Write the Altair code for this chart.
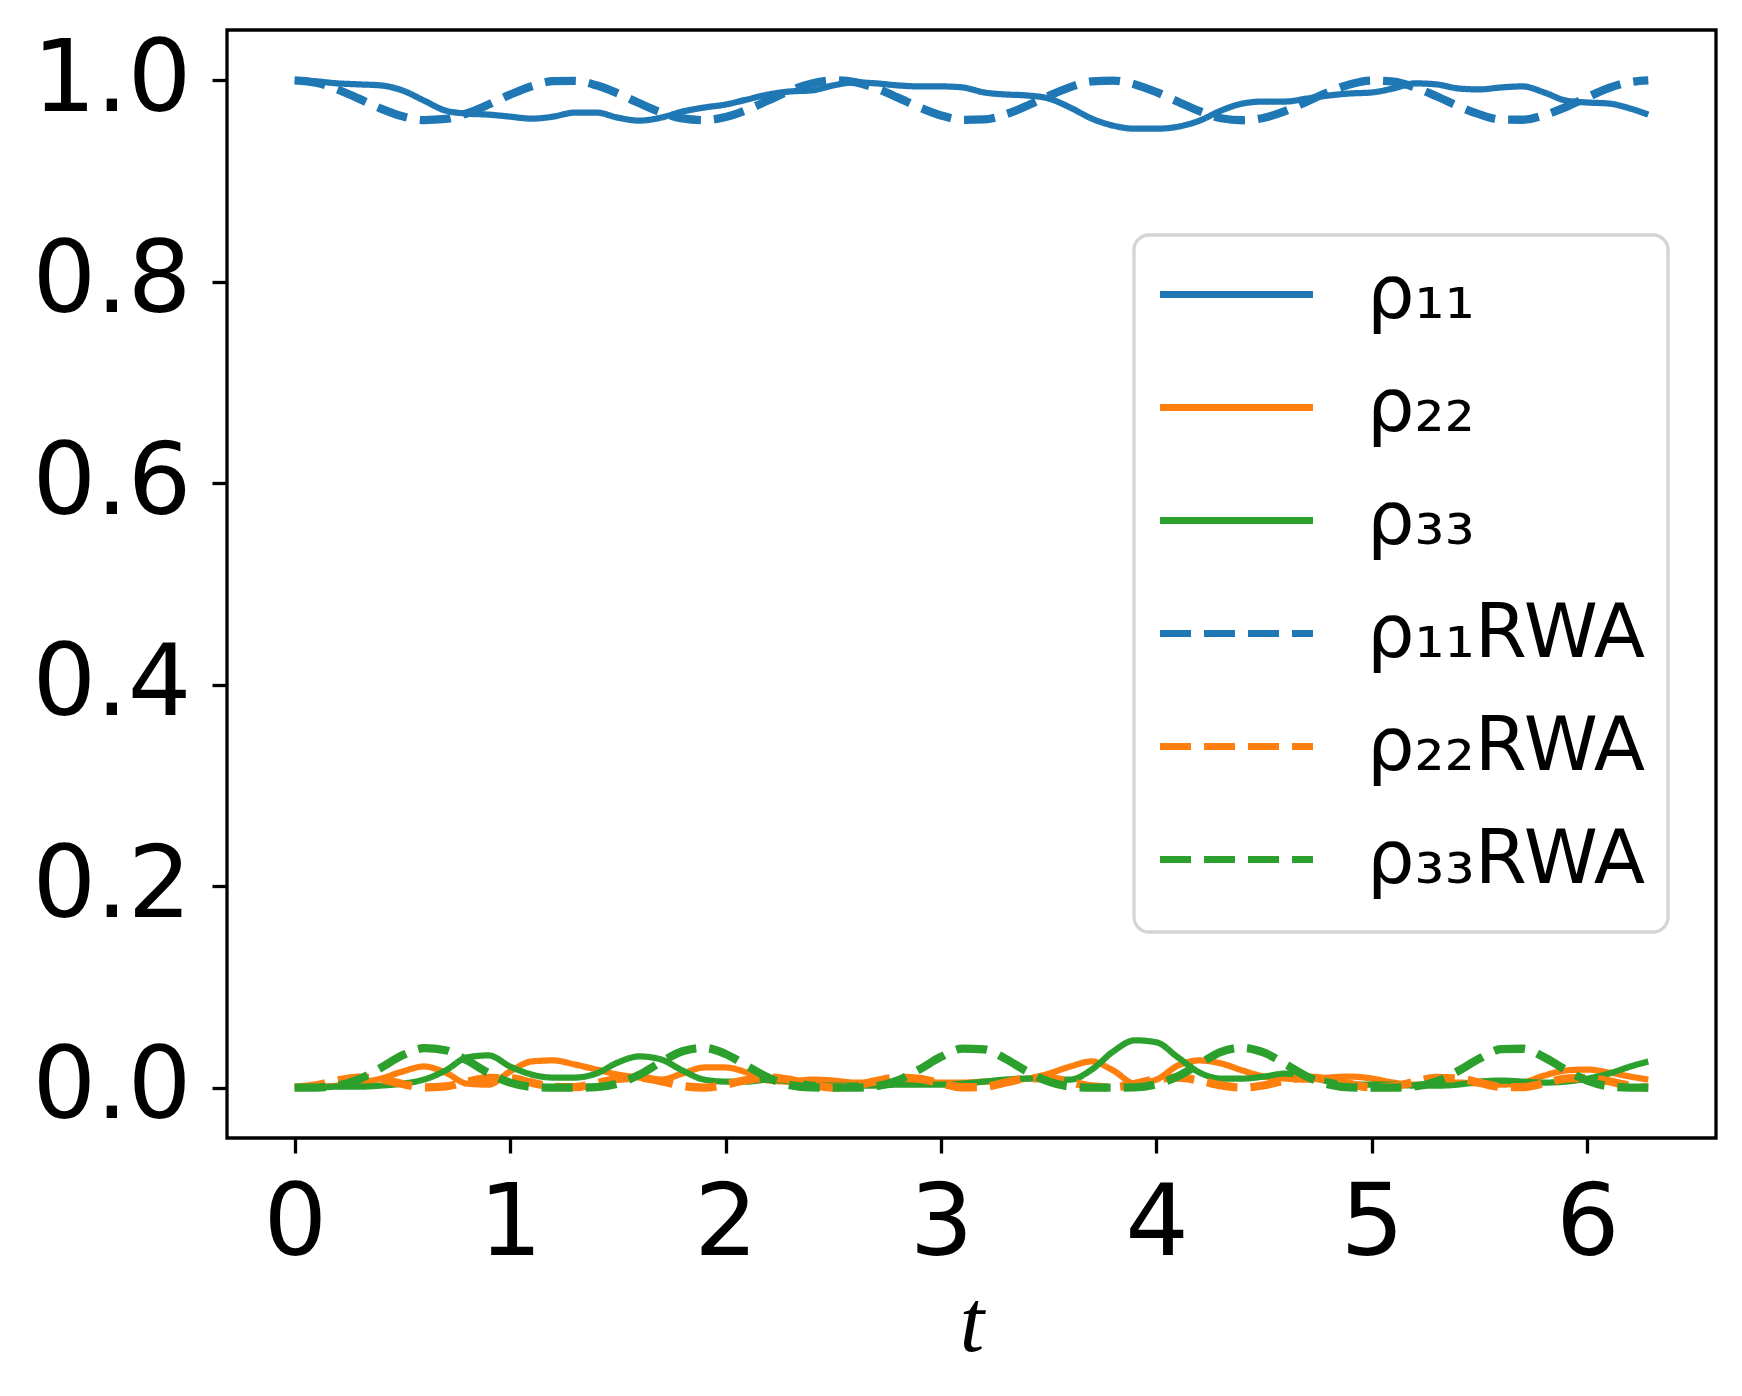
import altair as alt
import pandas as pd

T = [0.0, 0.1, 0.2, 0.3, 0.4, 0.5, 0.6, 0.7, 0.8, 0.9,
     1.0, 1.1, 1.2, 1.3, 1.4, 1.5, 1.6, 1.7, 1.8, 1.9,
     2.0, 2.1, 2.2, 2.3, 2.4, 2.5, 2.6, 2.7, 2.8, 2.9,
     3.0, 3.1, 3.2, 3.3, 3.4, 3.5, 3.6, 3.7, 3.8, 3.9,
     4.0, 4.1, 4.2, 4.3, 4.4, 4.5, 4.6, 4.7, 4.8, 4.9,
     5.0, 5.1, 5.2, 5.3, 5.4, 5.5, 5.6, 5.7, 5.8, 5.9,
     6.0, 6.1, 6.2, 6.283]

RHO11 = [1.000, 0.999, 0.997, 0.996, 0.995, 0.990, 0.980, 0.970, 0.967, 0.966,
         0.964, 0.962, 0.964, 0.968, 0.968, 0.963, 0.960, 0.963, 0.969, 0.973,
         0.976, 0.981, 0.986, 0.989, 0.990, 0.995, 0.998, 0.997, 0.995, 0.994,
         0.994, 0.993, 0.988, 0.986, 0.985, 0.982, 0.973, 0.962, 0.955, 0.952,
         0.952, 0.954, 0.960, 0.970, 0.977, 0.979, 0.979, 0.982, 0.985, 0.987,
         0.988, 0.992, 0.997, 0.996, 0.992, 0.991, 0.993, 0.994, 0.988, 0.980,
         0.978, 0.977, 0.972, 0.966]

RHO22 = [0.000, 0.001, 0.002, 0.005, 0.009, 0.016, 0.021, 0.015, 0.004, 0.003,
         0.016, 0.026, 0.027, 0.023, 0.018, 0.013, 0.010, 0.008, 0.014, 0.020,
         0.020, 0.015, 0.007, 0.006, 0.008, 0.007, 0.005, 0.005, 0.005, 0.006,
         0.005, 0.005, 0.006, 0.007, 0.009, 0.014, 0.021, 0.026, 0.017, 0.004,
         0.008, 0.022, 0.027, 0.024, 0.017, 0.011, 0.009, 0.008, 0.010, 0.011,
         0.009, 0.005, 0.003, 0.004, 0.005, 0.004, 0.003, 0.005, 0.012, 0.017,
         0.018, 0.015, 0.011, 0.008]

RHO33 = [0.000, 0.000, 0.001, 0.001, 0.002, 0.004, 0.008, 0.017, 0.030, 0.032,
         0.021, 0.013, 0.010, 0.010, 0.014, 0.025, 0.031, 0.028, 0.017, 0.008,
         0.006, 0.006, 0.008, 0.006, 0.003, 0.002, 0.002, 0.002, 0.003, 0.003,
         0.003, 0.004, 0.006, 0.008, 0.009, 0.008, 0.008, 0.018, 0.036, 0.047,
         0.045, 0.030, 0.015, 0.009, 0.009, 0.011, 0.014, 0.011, 0.006, 0.003,
         0.003, 0.003, 0.002, 0.002, 0.003, 0.006, 0.007, 0.006, 0.005, 0.006,
         0.009, 0.014, 0.021, 0.026]

RHO11_RWA = [1.0000, 0.9976, 0.9909, 0.9816, 0.9720, 0.9643, 0.9606, 0.9617, 0.9673, 0.9760,
             0.9858, 0.9942, 0.9992, 0.9995, 0.9951, 0.9871, 0.9773, 0.9683, 0.9622, 0.9605,
             0.9636, 0.9708, 0.9803, 0.9898, 0.9969, 1.0000, 0.9982, 0.9920, 0.9829, 0.9732,
             0.9652, 0.9608, 0.9612, 0.9663, 0.9748, 0.9845, 0.9933, 0.9990, 0.9998, 0.9960,
             0.9883, 0.9787, 0.9694, 0.9624, 0.9604, 0.9629, 0.9697, 0.9791, 0.9886, 0.9962,
             0.9998, 0.9987, 0.9930, 0.9842, 0.9744, 0.9662, 0.9611, 0.9609, 0.9654, 0.9735,
             0.9833, 0.9924, 0.9983, 1.0000]

RHO22_RWA = [0.0000, 0.0023, 0.0071, 0.0100, 0.0083, 0.0036, 0.0002, 0.0012, 0.0057, 0.0096,
             0.0092, 0.0050, 0.0008, 0.0005, 0.0043, 0.0088, 0.0098, 0.0064, 0.0017, 0.0001,
             0.0030, 0.0077, 0.0100, 0.0077, 0.0029, 0.0000, 0.0018, 0.0065, 0.0098, 0.0087,
             0.0042, 0.0004, 0.0008, 0.0051, 0.0092, 0.0095, 0.0056, 0.0012, 0.0002, 0.0037,
             0.0083, 0.0099, 0.0070, 0.0022, 0.0000, 0.0024, 0.0072, 0.0100, 0.0082, 0.0035,
             0.0002, 0.0013, 0.0058, 0.0096, 0.0091, 0.0049, 0.0007, 0.0005, 0.0044, 0.0089,
             0.0098, 0.0063, 0.0016, 0.0000]

RHO33_RWA = [0.0000, 0.0001, 0.0020, 0.0084, 0.0197, 0.0321, 0.0392, 0.0371, 0.0270, 0.0144,
             0.0050, 0.0008, 0.0000, 0.0000, 0.0006, 0.0041, 0.0129, 0.0253, 0.0361, 0.0394,
             0.0334, 0.0215, 0.0097, 0.0025, 0.0002, 0.0000, 0.0000, 0.0015, 0.0073, 0.0181,
             0.0306, 0.0388, 0.0380, 0.0286, 0.0160, 0.0060, 0.0011, 0.0000, 0.0000, 0.0003,
             0.0034, 0.0114, 0.0236, 0.0354, 0.0396, 0.0347, 0.0231, 0.0109, 0.0032, 0.0003,
             0.0000, 0.0000, 0.0012, 0.0062, 0.0165, 0.0289, 0.0382, 0.0386, 0.0302, 0.0176,
             0.0069, 0.0013, 0.0001, 0.0000]

NAMES = ["ρ₁₁", "ρ₂₂", "ρ₃₃", "ρ₁₁RWA", "ρ₂₂RWA", "ρ₃₃RWA"]
KINDS = ["exact", "exact", "exact", "RWA", "RWA", "RWA"]
COLORS = ["#1f77b4", "#ff7f0e", "#2ca02c", "#1f77b4", "#ff7f0e", "#2ca02c"]
DASHES = [[1, 0], [1, 0], [1, 0], [31, 13], [31, 13], [31, 13]]
X_TICKS = [0, 1, 2, 3, 4, 5, 6]
Y_TICKS = [0.0, 0.2, 0.4, 0.6, 0.8, 1.0]

SERIES = [RHO11, RHO22, RHO33, RHO11_RWA, RHO22_RWA, RHO33_RWA]
rows = []
for name, kind, vals in zip(NAMES, KINDS, SERIES):
    for t, v in zip(T, vals):
        rows.append({"t": t, "value": v, "series": name, "kind": kind})
df = pd.DataFrame(rows)

LEG = alt.Legend(
    title=" ",
    titleOrient="bottom",
    titleFontSize=2,
    titlePadding=10,
    orient="none",
    legendX=907,
    legendY=205,
    symbolType="M-3,0L3,0",
    symbolSize=2601,
    symbolStrokeWidth=7,
    symbolOffset=43,
    labelOffset=93,
    labelFont="DejaVu Sans",
    labelFontSize=75,
    labelColor="black",
    labelLimit=0,
    labelBaseline="middle",
    rowPadding=37,
    padding=22,
    fillColor="rgba(255,255,255,0.8)",
    strokeColor="#d4d4d4",
    cornerRadius=15,
)

x_enc = alt.X(
    "t:Q",
    scale=alt.Scale(domain=[-0.3142, 6.5973], nice=False, zero=False),
    axis=alt.Axis(values=X_TICKS, format="d", title="t", labelPadding=22,
                  titleFont="Liberation Serif", titleFontStyle="italic",
                  titleFontWeight="normal", titleFontSize=88, titleColor="black",
                  titlePadding=6),
)
y_enc = alt.Y(
    "value:Q",
    scale=alt.Scale(domain=[-0.05, 1.05], nice=False, zero=False),
    axis=alt.Axis(values=Y_TICKS, format=".1f", title=None, labelPadding=21),
)
color_enc = alt.Color("series:N", scale=alt.Scale(domain=NAMES, range=COLORS), legend=LEG)
dash_enc = alt.StrokeDash("series:N", scale=alt.Scale(domain=NAMES, range=DASHES), legend=LEG)

base = alt.Chart(df)
solid = base.transform_filter(alt.datum.kind == "exact").mark_line(
    strokeWidth=6.25, interpolate="monotone", strokeCap="butt"
).encode(x=x_enc, y=y_enc, color=color_enc, strokeDash=dash_enc)
dashed = base.transform_filter(alt.datum.kind == "RWA").mark_line(
    strokeWidth=8.3, interpolate="monotone", strokeCap="butt"
).encode(x=x_enc, y=y_enc, color=color_enc, strokeDash=dash_enc)

chart = (
    alt.layer(solid, dashed)
    .properties(width=1489, height=1108,
                padding={"left": 23, "top": 22, "right": 5, "bottom": 5},
                background="white")
    .configure_view(stroke="black", strokeWidth=3.3)
    .configure_axis(grid=False, domain=False, tickColor="black", tickWidth=3.3,
                    tickSize=15, labelFont="DejaVu Sans", labelFontSize=100,
                    labelColor="black", labelFlush=False)
    .configure_legend(strokeWidth=3.3)
)

chart.save("out.html", embed_options={"renderer": "svg", "actions": False})
